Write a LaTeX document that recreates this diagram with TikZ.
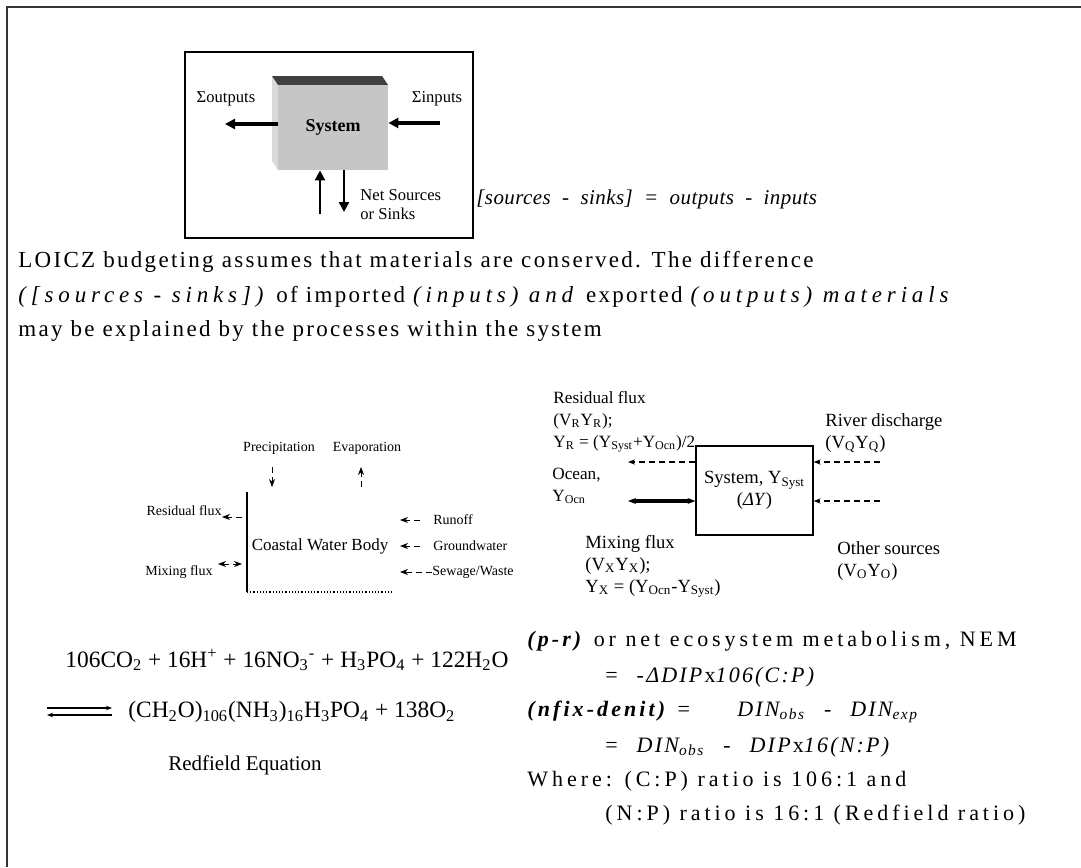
\documentclass[tikz,border=0pt]{standalone}
\usepackage{fontspec}
\setmainfont{Liberation Serif}
\newfontfamily\bodyfont[UprightFeatures={LetterSpace=10}, ItalicFeatures={LetterSpace=21}]{Liberation Serif}
\newfontfamily\ratiofont[UprightFeatures={LetterSpace=18}, BoldFeatures={LetterSpace=18},
    ItalicFeatures={LetterSpace=10}, BoldItalicFeatures={LetterSpace=14}]{Liberation Serif}
\newfontfamily\balancefont[LetterSpace=2]{Liberation Serif}
\usetikzlibrary{arrows.meta, positioning, calc}

\begin{document}
\begin{tikzpicture}[
    x=0.5pt, y=-0.5pt,
    >={Stealth[length=4pt, width=3pt]},
    outerline/.style={draw=black!80, line width=1pt},
    lbl/.style={inner sep=0pt, font=\fontsize{8.3}{9.5}\selectfont},
    tinylbl/.style={inner sep=0pt, font=\fontsize{7}{8}\selectfont},
    fluxtxt/.style={inner sep=0pt, anchor=north west, align=left, font=\fontsize{9.3}{11}\selectfont},
    bodyline/.style={inner sep=0pt, anchor=west, font=\bodyfont\fontsize{11.5}{13}\selectfont},
    ratioline/.style={inner sep=0pt, anchor=west, font=\ratiofont\fontsize{11}{13}\selectfont},
    chemline/.style={inner sep=0pt, anchor=west, font=\fontsize{11.7}{14}\selectfont},
    bigarrow/.style={-{Triangle[length=5pt, width=5pt]}, line width=1.6pt},
    thinarrow/.style={->, densely dashed, line width=0.4pt},
    boxarrow/.style={-{Stealth[length=3.5pt]}, densely dashed, line width=0.9pt},
]
    \useasboundingbox (0,0) rectangle (1081,867);

    % outer frame
    \draw[outerline] (7,867) -- (7,7) -- (1081,7);

    % top picture: the system cube
    \draw[line width=1pt] (185,52) rectangle (473,238);
    \fill[gray!30] (272,76) -- (278,85) -- (278,170) -- (272,161) -- cycle;
    \fill[black!75] (272,76) -- (382,76) -- (388,85) -- (278,85) -- cycle;
    \node[fill=gray!45, minimum width=55pt, minimum height=42.5pt, inner sep=0pt,
          font=\bfseries\fontsize{9}{10}\selectfont] (cube) at (333,127.5) {System};
    \node[lbl] (outs) at (226,99) {Σoutputs};
    \node[lbl] (ins)  at (437,99) {Σinputs};
    \node[lbl, anchor=west, align=left] (netsrc) at (360,205) {Net Sources\\or Sinks};
    \coordinate (outend) at (225,124);
    \coordinate (inbeg)  at (440,123);
    \coordinate (srcbot) at (320,214);
    \coordinate (snkbot) at (344,212);
    \draw[bigarrow] (cube.west |- outend) -- (outend);
    \draw[bigarrow] (inbeg) -- (inbeg -| cube.east);
    \draw[bigarrow, line width=1.2pt] (srcbot) -- (srcbot |- cube.south);
    \draw[bigarrow, line width=1.2pt] (snkbot |- cube.south) -- (snkbot);
    \node[inner sep=0pt, anchor=west, font=\balancefont\itshape\fontsize{10.5}{12}\selectfont] (balance) at (476,199)
        {[sources~ -~ sinks]~ =~ outputs~ -~ inputs};

    % text
    \node[bodyline] (txta) at (18,262) {LOICZ budgeting assumes that materials are conserved. The difference};
    \node[bodyline] (txtb) at (18,297) {\textit{([sources - sinks])} of imported \textit{(inputs) and} exported \textit{(outputs) materials}};
    \node[bodyline] (txtc) at (18,331) {may be explained by the processes within the system};

    % coastal water body
    \node[tinylbl] (precip) at (279,448) {Precipitation};
    \node[tinylbl] (evap)   at (367,448) {Evaporation};
    \node[inner sep=0pt, font=\fontsize{8.5}{10}\selectfont] (cwb) at (320,546) {Coastal Water Body};
    \draw[line width=0.6pt] (247,492) -- (247,592);
    \draw[densely dotted, line width=0.6pt] (247,592) -- (394,592);
    \node[tinylbl, anchor=east] (resid) at (222,511) {Residual flux};
    \node[tinylbl, anchor=east] (mixl)  at (213,572) {Mixing flux};
    \node[tinylbl, anchor=west] (runoff) at (433,520) {Runoff};
    \node[tinylbl, anchor=west] (gw)     at (433,546) {Groundwater};
    \node[tinylbl, anchor=west] (sew)    at (432,572) {Sewage/Waste};
    \coordinate (pr1) at (272,467);  \coordinate (pr2) at (272,487);
    \coordinate (ev1) at (361,487);  \coordinate (ev2) at (361,467);
    \coordinate (rs1) at (242,517);  \coordinate (rs2) at (222,517);
    \coordinate (mx1) at (218,564);  \coordinate (mx2) at (242,564);
    \draw[thinarrow] (pr1) -- (pr2);
    \draw[thinarrow] (ev1) -- (ev2);
    \draw[thinarrow] (rs1) -- (rs2);
    \draw[thinarrow, <->] (mx1) -- (mx2);
    \draw[thinarrow] (runoff.west) ++(-13,0) -- ++(-20,0);
    \draw[thinarrow] (gw.west) ++(-13,0) -- ++(-20,0);
    \draw[thinarrow] (sew.west) -- ++(-32,0);

    % box model
    \node[draw, line width=0.6pt, minimum width=58.5pt, minimum height=44.5pt, inner sep=0pt,
          align=center, font=\fontsize{9.3}{11}\selectfont] (sysr) at (754.5,490.5)
        {System, Y\textsubscript{Syst}\\(\textit{ΔY})};
    \node[fluxtxt, font=\fontsize{8.6}{11}\selectfont] (residr) at (553,391)
        {Residual flux\\(V\textsubscript{R}Y\textsubscript{R});\\Y\textsubscript{R} = (Y\textsubscript{Syst}+Y\textsubscript{Ocn})/2};
    \node[fluxtxt, font=\fontsize{8.6}{11}\selectfont] (ocean) at (552,468) {Ocean,\\Y\textsubscript{Ocn}};
    \node[fluxtxt] (river)  at (825,413) {River discharge\\(V\textsubscript{Q}Y\textsubscript{Q})};
    \node[fluxtxt] (mixr)   at (585,535) {Mixing flux\\(V\textsubscript{X}Y\textsubscript{X});\\Y\textsubscript{X} = (Y\textsubscript{Ocn}-Y\textsubscript{Syst})};
    \node[fluxtxt] (other)  at (837,541) {Other sources\\(V\textsubscript{O}Y\textsubscript{O})};
    \coordinate (resend) at (628,462);
    \coordinate (ocnend) at (628,501);
    \coordinate (rivbeg) at (880,462);
    \coordinate (othbeg) at (880,501);
    \draw[boxarrow] (resend -| sysr.west) -- (resend);
    \draw[{Stealth[length=4pt]}-{Stealth[length=4pt]}, line width=1.8pt] (ocnend) -- (ocnend -| sysr.west);
    \draw[boxarrow] (rivbeg) -- (rivbeg -| sysr.east);
    \draw[boxarrow] (othbeg) -- (othbeg -| sysr.east);

    % Redfield equation
    \node[chemline] (eqa) at (65,660)
        {106CO\textsubscript{2} + 16H\textsuperscript{+} + 16NO\textsubscript{3}\textsuperscript{-} + H\textsubscript{3}PO\textsubscript{4} + 122H\textsubscript{2}O};
    \node[chemline] (eqb) at (128,712)
        {(CH\textsubscript{2}O)\textsubscript{106}(NH\textsubscript{3})\textsubscript{16}H\textsubscript{3}PO\textsubscript{4} + 138O\textsubscript{2}};
    \node[chemline, anchor=center, font=\fontsize{10.5}{12}\selectfont] (eqname) at (245,765) {Redfield Equation};
    \coordinate (fwA) at (47,708);  \coordinate (fwB) at (112,708);
    \coordinate (bwA) at (47,715);  \coordinate (bwB) at (112,715);
    \draw[-{Stealth[length=3pt]}, line width=0.8pt] (fwA) -- (fwB);
    \draw[-{Stealth[length=3pt]}, line width=0.8pt] (bwB) -- (bwA);

    % NEM and nfix-denit
    \node[ratioline] (nema)  at (527,641) {\textbf{\textit{(p-r)}} or net ecosystem metabolism, NEM};
    \node[ratioline] (nemb)  at (605,677) {= ~\textit{-ΔDIP}x\textit{106(C:P)}};
    \node[ratioline] (nfxa)  at (527,712) {\textbf{\textit{(nfix-denit)}} = ~~~ \textit{DIN\textsubscript{obs}} ~-~ \textit{DIN\textsubscript{exp}}};
    \node[ratioline] (nfxb)  at (605,747) {= ~\textit{DIN\textsubscript{obs}} ~-~ \textit{DIP}x\textit{16(N:P)}};
    \node[ratioline] (whra)  at (527,781) {Where: (C:P) ratio is 106:1 and};
    \node[ratioline] (whrb)  at (605,815) {(N:P) ratio is 16:1 (Redfield ratio)};
\end{tikzpicture}
\end{document}
